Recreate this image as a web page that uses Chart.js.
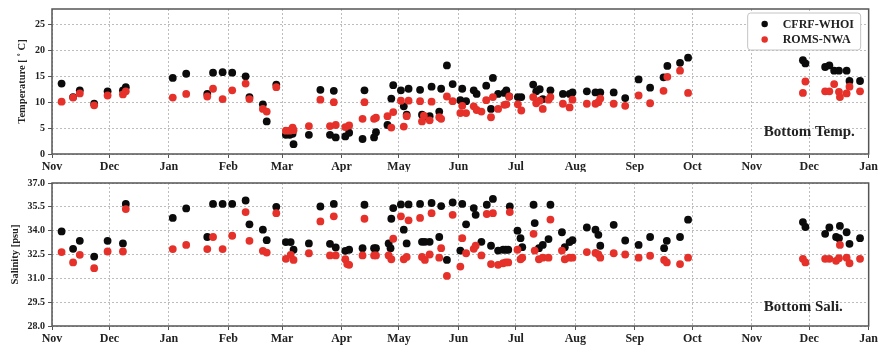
<!DOCTYPE html>
<html>
<head>
<meta charset="utf-8">
<script src="https://cdn.jsdelivr.net/npm/chart.js@4.4.1/dist/chart.umd.min.js"></script>
<style>
  body { margin: 0; background: #fff; }
  #wrap { position: relative; width: 880px; height: 345px; }
  canvas { position: absolute; left: 0; }
</style>
</head>
<body>
<div id="wrap">
  <canvas id="tempChart" width="880" height="172" style="top:0"></canvas>
  <canvas id="saliChart" width="880" height="173" style="top:172px"></canvas>
</div>
<script>
// x values are days counted from Nov 1 (first year), axis runs to Jan 1 two years later
var monthDays = [0, 30, 61, 92, 120, 151, 181, 212, 242, 273, 304, 334, 365, 395, 426];
var monthLabels = ['Nov', 'Dec', 'Jan', 'Feb', 'Mar', 'Apr', 'May', 'Jun', 'Jul', 'Aug', 'Sep', 'Oct', 'Nov', 'Dec', 'Jan'];

var tempTicks = [0, 5, 10, 15, 20, 25];
var saliTicks = [28.0, 29.5, 31.0, 32.5, 34.0, 35.5, 37.0];

// bottom temperature (deg C): observation day, CFRF-WHOI, ROMS-NWA
var tempDay = [5, 11, 14.5, 22, 29, 37, 38.5, 63, 70, 81, 84, 89, 94, 101, 103, 110, 112, 117,
  122, 124, 125.5, 126, 134, 140, 145, 147, 148, 153, 155, 162, 163, 168, 169, 175, 177, 178,
  182, 183.5, 185, 186, 192, 193, 194, 197, 198, 202, 203, 206, 209, 213, 214, 216, 220, 221.5,
  224, 226.5, 229, 230, 232.7, 236, 237, 238.5, 243, 244.8, 251, 252.6, 254.4, 256, 259, 260,
  266.5, 270, 271.5, 279, 283.5, 285, 286, 293, 299, 306, 312, 319, 321, 327.6, 331.8,
  391.7, 393, 403.3, 405.5, 408, 410.5, 411, 414.5, 416, 421.5];
var tempObs = [13.6, 11.0, 12.3, 9.7, 12.1, 12.3, 12.9, 14.7, 15.5, 11.6, 15.7, 15.8, 15.7, 15.0, 11.0, 9.6, 6.3, 13.4,
  3.7, 3.7, 3.9, 1.9, 3.7, 12.4, 3.7, 12.2, 3.2, 3.4, 4.1, 2.9, 12.3, 3.2, 4.2, 5.6, 10.7, 13.3,
  12.3, 9.2, 7.6, 12.6, 12.4, 7.6, 7.2, 7.3, 13.0, 8.2, 12.6, 17.1, 13.5, 10.4, 12.6, 10.2, 12.3, 11.6,
  null, 13.2, 8.7, 14.7, 11.6, 11.8, 12.3, 11.1, 11.0, 11.0, 13.4, 12.1, 12.5, 10.6, null, 12.3,
  11.6, 11.6, 11.9, 12.1, 11.9, null, 11.9, 11.9, 10.8, 14.4, 12.8, 14.8, 17.0, 17.6, 18.6,
  18.1, 17.5, 16.8, 17.1, 16.1, 16.1, null, 16.1, 14.1, 14.1];
var tempModel = [10.1, 10.9, 11.7, 9.4, 11.3, 11.5, 12.1, 10.9, 11.6, 11.1, 12.6, 10.6, 12.3, 13.6, 10.6, 8.7, 8.2, 12.9,
  4.5, 4.5, 5.1, 4.6, 5.4, 10.5, 5.4, 10.0, 5.6, 5.2, 5.5, 6.8, 10.0, 6.8, 7.0, 7.3, 5.1, 8.1,
  10.3, 5.3, 7.3, 10.3, 10.2, 6.3, 7.4, 6.5, 10.1, 7.1, 6.8, 11.1, 10.2, 7.9, 9.3, 7.9, 9.2, 8.5,
  8.2, 10.4, 7.1, 11.0, 8.7, 9.5, 9.6, 11.1, 9.6, 8.4, 11.0, 9.8, 10.3, 8.7, 10.5, 11.0,
  9.7, 9.0, 10.5, 9.7, 9.7, 10.0, 10.7, 9.7, 9.3, 11.3, 9.8, 12.2, 14.9, 16.1, 11.8,
  11.8, 14.0, 12.1, 12.1, 13.5, 12.0, 11.0, 11.7, 13.0, 12.1];

// bottom salinity (psu): observation day, CFRF-WHOI, ROMS-NWA
var saliDay = [5, 11, 14.5, 22, 29, 37, 38.5, 63, 70, 81, 84, 89, 94, 101, 103, 110, 112, 117,
  122, 124.5, 126, 134, 140, 145, 147, 148, 153, 154, 155, 162, 163, 168, 169, 175.6, 176.6, 177, 178,
  182, 183.5, 185, 186, 192, 193, 194.5, 197, 198, 202, 203, 206, 209, 213, 214, 216, 220, 221,
  224, 226.8, 229, 230, 232.7, 235.3, 236.7, 238, 238.8, 242.8, 244.4, 245.3, 251.2, 251.8, 254, 256, 259, 260,
  266, 267.5, 270, 271.5, 279, 283.5, 285, 286, 293, 299, 306, 312, 319.3, 320.7, 327.6, 331.8,
  391.7, 393, 403.3, 405.5, 409, 410.5, 411, 414.5, 416, 421.5];
var saliObs = [33.95, 32.86, 33.36, 32.37, 33.36, 33.2, 35.68, 34.8, 35.4, 33.6, 35.68, 35.68, 35.68, 35.9, 34.4, 34.06, 33.4, 35.5,
  33.28, 33.28, 32.8, 33.2, 35.52, 33.17, 35.68, 32.94, 32.73, null, 32.8, 32.9, 35.63, 32.9, 32.9, 33.2, 32.9, 34.75, 35.42,
  35.65, 34.06, 33.2, 35.65, 35.68, 33.3, 33.3, 33.3, 35.74, 33.6, 35.55, 32.16, 35.78, 32.75, 35.68, 34.4, 35.42, 35.0,
  33.3, 35.63, 33.05, 36.0, 32.75, 32.8, 32.8, 32.8, 35.52, 34.0, 33.53, 32.96, 35.63, 34.48, 32.9, 33.1, 33.47, 35.63,
  33.9, 32.96, 33.28, 33.4, 34.2, 34.06, 33.74, 33.05, 34.37, 33.38, 33.1, 33.6, 32.9, 33.36, 33.6, 34.69,
  34.54, 34.23, 33.8, 34.2, 33.6, 33.53, 34.3, 33.9, 33.17, 33.53];
var saliModel = [32.65, 32.0, 32.48, 31.64, 32.69, 32.69, 35.36, 32.84, 33.1, 32.84, 33.6, 32.84, 33.68, 35.17, 33.36, 32.73, 32.62, 35.1,
  32.23, 32.48, 32.16, 32.58, 34.58, 32.44, 34.9, 32.44, 32.2, 31.9, 31.85, 32.44, 34.75, 32.44, 32.44, 32.44, null, 32.2, 33.49,
  34.9, 32.2, 32.35, 34.65, 34.8, 32.35, 32.16, 32.5, 35.1, 32.3, 32.9, 31.15, 35.0, 31.74, 33.53, 32.58, 32.86, 33.05,
  32.44, 35.05, 31.9, 35.1, 31.85, 31.95, 32.0, 32.0, 35.17, 32.8, 32.2, 32.3, 33.8, 32.75, 32.2, 32.3, 32.3, 34.7,
  32.75, 32.2, 32.3, 32.3, 32.65, 32.6, 32.5, 32.3, 32.58, 32.5, 32.3, 32.42, 32.16, 32.0, 31.9, 32.3,
  32.23, 32.0, 32.23, 32.23, 32.1, 32.27, 33.1, 32.3, 31.95, 32.23];

var seriesNames = ['CFRF-WHOI', 'ROMS-NWA'];
var seriesColors = ['#0b0b0b', '#e5312a'];

var serif = '"Liberation Serif", "DejaVu Serif", serif';

function toPoints(days, vals) {
  var pts = [];
  for (var i = 0; i < days.length; i++) {
    if (vals[i] !== null) pts.push({x: days[i], y: vals[i]});
  }
  return pts;
}

// frame, legend and panel label drawn on top of the plot
var panelDeco = {
  id: 'panelDeco',
  afterDraw: function(chart, args, opts) {
    var ctx = chart.ctx;
    var a = chart.chartArea;
    ctx.save();
    ctx.strokeStyle = '#555';
    ctx.lineWidth = 1.5;
    ctx.strokeRect(a.left, a.top, a.right - a.left, a.bottom - a.top);

    ctx.fillStyle = '#222';
    ctx.font = 'bold 15px ' + serif;
    ctx.textBaseline = 'middle';
    ctx.textAlign = 'left';
    ctx.fillText(opts.label, a.right - 105, a.bottom - opts.labelUp);

    if (opts.legend) {
      var bx = a.right - 121, by = a.top + 4, bw = 113, bh = 37;
      ctx.fillStyle = '#fff';
      ctx.strokeStyle = '#c4c4c4';
      ctx.lineWidth = 1;
      ctx.beginPath();
      ctx.roundRect(bx, by, bw, bh, 3);
      ctx.fill();
      ctx.stroke();
      ctx.font = 'bold 12px ' + serif;
      for (var i = 0; i < seriesNames.length; i++) {
        var cy = by + 11 + i * 15.5;
        ctx.fillStyle = seriesColors[i];
        ctx.beginPath();
        ctx.arc(bx + 17, cy, 3.2, 0, Math.PI * 2);
        ctx.fill();
        ctx.fillStyle = '#222';
        ctx.fillText(seriesNames[i], bx + 35, cy + 0.5);
      }
    }
    ctx.restore();
  }
};

function printPanel(id, days, obs, model, cfg) {
  var ctx = document.getElementById(id).getContext('2d');
  return new Chart(ctx, {
    type: 'scatter',
    data: {
      datasets: [{
        label: seriesNames[1],
        data: toPoints(days, model),
        backgroundColor: seriesColors[1],
        pointRadius: 3.9,
        pointBorderWidth: 0,
        order: 0
      }, {
        label: seriesNames[0],
        data: toPoints(days, obs),
        backgroundColor: seriesColors[0],
        pointRadius: 3.9,
        pointBorderWidth: 0,
        order: 1
      }]
    },
    options: {
      responsive: false,
      animation: false,
      devicePixelRatio: 1,
      layout: { padding: { top: cfg.padTop, right: 8, left: 0, bottom: 0 } },
      plugins: {
        legend: { display: false },
        tooltip: { enabled: false },
        panelDeco: { label: cfg.label, labelUp: cfg.labelUp, legend: cfg.legend }
      },
      scales: {
        x: {
          type: 'linear',
          min: monthDays[0],
          max: monthDays[monthDays.length - 1],
          afterBuildTicks: function(scale) {
            scale.ticks = monthDays.map(function(d) { return {value: d}; });
          },
          afterFit: function(scale) { scale.height = cfg.xHeight; },
          ticks: {
            autoSkip: false,
            maxRotation: 0,
            padding: 2,
            color: '#222',
            font: { family: serif, size: 12, weight: 'bold' },
            callback: function(v, i) { return monthLabels[i]; }
          },
          grid: {
            color: '#bdbdbd',
            tickColor: '#555',
            tickLength: 4,
            tickBorderDash: []
          },
          border: { display: false, dash: [2, 2] }
        },
        y: {
          min: cfg.yTicks[0],
          max: cfg.yMax,
          afterBuildTicks: function(scale) {
            scale.ticks = cfg.yTicks.map(function(v) { return {value: v}; });
          },
          afterFit: function(scale) { scale.width = 52; },
          ticks: {
            padding: 3,
            color: '#222',
            font: { family: serif, size: 10, weight: 'bold' },
            callback: function(v) { return cfg.fmt(v); }
          },
          grid: {
            color: '#bdbdbd',
            tickColor: '#555',
            tickLength: 4,
            tickBorderDash: []
          },
          border: { display: false, dash: [2, 2] },
          title: {
            display: true,
            text: cfg.yTitle,
            color: '#222',
            font: { family: serif, size: 10.5, weight: 'bold' },
            padding: { top: cfg.titlePad, bottom: 0 }
          }
        }
      }
    },
    plugins: [panelDeco]
  });
}

printPanel('tempChart', tempDay, tempObs, tempModel, {
  yTicks: tempTicks, yMax: 28, yTitle: 'Temperature [ \u02DA C]',
  fmt: function(v) { return String(v); },
  padTop: 9, xHeight: 18, titlePad: 16,
  label: 'Bottom Temp.', labelUp: 22, legend: true
});

printPanel('saliChart', saliDay, saliObs, saliModel, {
  yTicks: saliTicks, yMax: 37, yTitle: 'Salinity [psu]',
  fmt: function(v) { return v.toFixed(1); },
  padTop: 11, xHeight: 19, titlePad: 9,
  label: 'Bottom Sali.', labelUp: 19, legend: false
});
</script>
</body>
</html>
